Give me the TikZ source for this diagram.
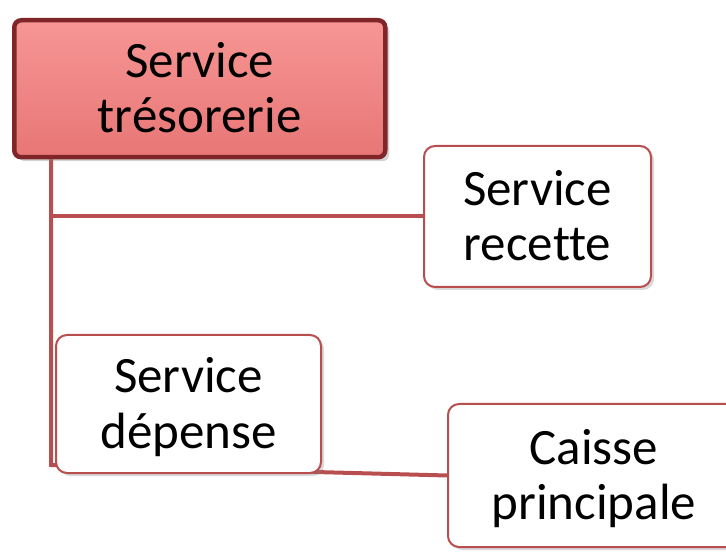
\documentclass[tikz,border=0pt]{standalone}
\usepackage{fontspec}
\setmainfont{Carlito}[Ligatures=NoCommon]
\usepackage{tikz}
\usetikzlibrary{shadows}
\usetikzlibrary{backgrounds}
\usetikzlibrary{calc}

\definecolor{rougefonce}{RGB}{128,38,40}
\definecolor{rougeclair}{RGB}{246,150,148}
\definecolor{rougemoyen}{RGB}{232,118,118}
\definecolor{trait}{RGB}{184,78,80}

\tikzset{
  chef/.style={anchor=north west, rounded corners=7pt, draw=rougefonce,
               line width=4.5pt, top color=rougeclair, bottom color=rougemoyen,
               drop shadow={shadow xshift=4pt, shadow yshift=-4pt, opacity=.35},
               align=center, font=\fontsize{51}{55}\selectfont,
               text height=88pt, text depth=0pt},
  serv/.style={anchor=north west, rounded corners=11pt, draw=trait,
               line width=2pt, fill=white,
               drop shadow={shadow xshift=3pt, shadow yshift=-3pt, opacity=.3},
               align=center, font=\fontsize{51}{55}\selectfont,
               text height=88pt, text depth=0pt},
  lien/.style={draw=trait, line width=4pt}
}

\begin{document}
\begin{tikzpicture}[x=1pt, y=-1pt]
  \useasboundingbox (0,0) rectangle (726,553);

  \node[chef, minimum width=371pt, minimum height=137pt] (tresorerie) at (12,18) {Service\\trésorerie};
  \node[serv, minimum width=227pt, minimum height=141pt] (recette) at (423,145) {Service\\recette};
  \node[serv, minimum width=265pt, minimum height=138pt] (depense) at (55,334) {Service\\dépense};
  \node[serv, minimum width=292pt, minimum height=143pt] (caisse) at (447,403) {Caisse\\principale};

  \coordinate (tronc) at (51,465);

  \begin{scope}[on background layer]
    \draw[lien] (tresorerie.south -| tronc) -- (tronc) -- (caisse.west);
    \draw[lien] (tronc |- recette.west) -- (recette.west);
  \end{scope}
\end{tikzpicture}
\end{document}
